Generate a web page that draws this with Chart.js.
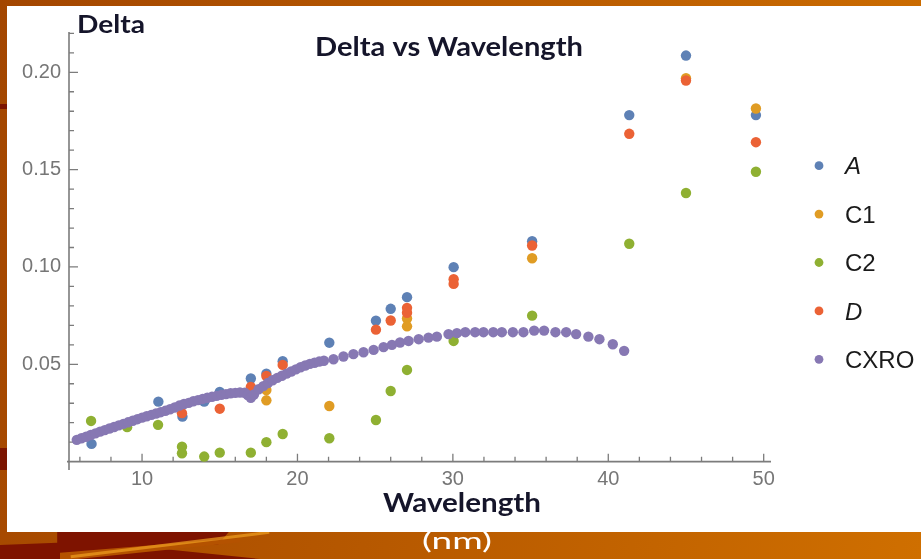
<!DOCTYPE html>
<html>
<head>
<meta charset="utf-8">
<script src="https://cdn.jsdelivr.net/npm/chart.js@4.4.1/dist/chart.umd.min.js"></script>
<style>
  html, body { margin: 0; padding: 0; }
  body {
    width: 921px; height: 559px; position: relative; overflow: hidden;
    background: linear-gradient(100deg, #a34600 0%, #b65800 45%, #cf6f00 100%);
  }
  .deco { position: absolute; }
  #panel { position: absolute; left: 7px; top: 6px; width: 914px; height: 526px; background: #ffffff; }
  #chart { position: absolute; left: 0; top: 0; }
</style>
</head>
<body>
<!-- slide decoration -->
<div class="deco" style="left:0;top:104px;width:7px;height:5px;background:#7c1400;"></div>
<div class="deco" style="left:0;top:448px;width:7px;height:22px;background:#7c1400;"></div>
<div class="deco" style="left:0;top:532px;width:260px;height:27px;background:#7e1300;clip-path:polygon(0% 48%, 22% 40%, 22% 0%, 88% 0%, 84% 45%, 60% 60%, 100% 100%, 0% 100%);"></div>
<div class="deco" style="left:60px;top:538px;width:180px;height:21px;background:#b45200;clip-path:polygon(0% 70%, 100% 0%, 100% 20%, 10% 100%, 0% 100%);"></div>
<div class="deco" style="left:70px;top:543px;width:200px;height:3px;background:#f0a020;transform:rotate(-7deg);opacity:0.7;"></div>
<div id="panel"></div>
<canvas id="chart" width="921" height="559"></canvas>
<script>
// Series names and colours
const seriesNames  = ['A', 'C1', 'C2', 'D', 'CXRO'];
const seriesColors = ['#5e81b5', '#e09c24', '#8fb032', '#eb6235', '#8778b3'];

// Measured points: wavelength (nm) and delta
const aWavelength = [6.75, 11.05, 12.6, 14.0, 15.0, 17.0, 18.0, 19.05, 22.05, 25.05, 26.0, 27.05, 30.05, 35.1, 41.35, 45.0, 49.5];
const aDelta      = [0.0091, 0.0308, 0.0231, 0.0308, 0.0358, 0.0427, 0.0452, 0.0516, 0.0611, 0.0724, 0.0785, 0.0845, 0.0999, 0.1132, 0.1780, 0.2086, 0.1780];

const c1Wavelength = [18.0, 18.0, 22.05, 27.05, 27.05, 35.1, 45.0, 49.5];
const c1Delta      = [0.0368, 0.0315, 0.0286, 0.0735, 0.0695, 0.1045, 0.1970, 0.1814];

const c2Wavelength = [6.72, 9.04, 11.03, 12.57, 12.57, 14.0, 15.0, 17.0, 18.0, 19.05, 22.05, 25.05, 26.0, 27.05, 30.05, 35.1, 41.35, 45.0, 49.5];
const c2Delta      = [0.0209, 0.0177, 0.0189, 0.0077, 0.0043, 0.0026, 0.0046, 0.0046, 0.0100, 0.0142, 0.0120, 0.0214, 0.0363, 0.0471, 0.0620, 0.0750, 0.1119, 0.1380, 0.1489];

const dWavelength = [12.57, 15.0, 17.0, 18.0, 19.05, 25.05, 26.0, 27.05, 27.05, 30.05, 30.05, 35.1, 41.35, 45.0, 49.5];
const dDelta      = [0.0249, 0.0272, 0.0384, 0.0440, 0.0497, 0.0678, 0.0725, 0.0790, 0.0765, 0.0937, 0.0913, 0.1110, 0.1684, 0.1958, 0.1641];

// CXRO tabulated delta
const cxroWavelength = [
  5.8, 6.1, 6.4, 6.7, 7.0, 7.3, 7.6, 7.9, 8.2, 8.5, 8.8, 9.1, 9.4, 9.7, 10.0, 10.3, 10.6, 10.9,
  11.2, 11.5, 11.8, 12.1, 12.4, 12.7, 13.0, 13.3, 13.6, 13.9, 14.2, 14.5, 14.8, 15.1, 15.4, 15.7,
  16.0, 16.3, 16.6, 16.8, 17.0, 17.2, 17.5, 17.8, 18.1, 18.4, 18.7, 19.0, 19.3, 19.6, 19.9, 20.2,
  20.5, 20.8, 21.1, 21.4, 21.7, 22.32, 22.96, 23.6, 24.25, 24.9, 25.54, 26.08, 26.6, 27.15, 27.8,
  28.43, 28.97, 29.72, 30.26, 30.8, 31.43, 31.97, 32.6, 33.15, 33.86, 34.54, 35.23, 35.87, 36.6,
  37.29, 37.93, 38.72, 39.43, 40.29, 41.02
];
const cxroDelta = [
  0.0112, 0.0120, 0.0128, 0.0137, 0.0145, 0.0154, 0.0162, 0.0170, 0.0178, 0.0186, 0.0194, 0.0202, 0.0210, 0.0218, 0.0226, 0.0233, 0.0240, 0.0247,
  0.0254, 0.0261, 0.0269, 0.0278, 0.0288, 0.0296, 0.0302, 0.0310, 0.0316, 0.0322, 0.0328, 0.0333, 0.0338, 0.0343, 0.0347, 0.0351,
  0.0353, 0.0355, 0.0354, 0.0342, 0.0328, 0.0345, 0.0372, 0.0388, 0.0404, 0.0418, 0.0430, 0.0441, 0.0452, 0.0463, 0.0474, 0.0485,
  0.0494, 0.0502, 0.0508, 0.0514, 0.0518, 0.0526, 0.0540, 0.0552, 0.0562, 0.0574, 0.0588, 0.0600, 0.0612, 0.0620, 0.0629,
  0.0637, 0.0642, 0.0655, 0.0660, 0.0665, 0.0665, 0.0665, 0.0665, 0.0665, 0.0665, 0.0665, 0.0673, 0.0673, 0.0665,
  0.0665, 0.0655, 0.0642, 0.0629, 0.0603, 0.0569
];

// Axis ticks
const xTickValues = [10, 20, 30, 40, 50];
const xTickLabels = ['10', '20', '30', '40', '50'];
const xMinorTicks = [6, 8, 12, 14, 16, 18, 22, 24, 26, 28, 32, 34, 36, 38, 42, 44, 46, 48];
const yTickValues = [0.05, 0.10, 0.15, 0.20];
const yTickLabels = ['0.05', '0.10', '0.15', '0.20'];
const yMinorTicks = [0.01, 0.02, 0.03, 0.04, 0.06, 0.07, 0.08, 0.09, 0.11, 0.12, 0.13, 0.14, 0.16, 0.17, 0.18, 0.19, 0.21, 0.22];

const seriesWavelengths = [aWavelength, c1Wavelength, c2Wavelength, dWavelength, cxroWavelength];
const seriesDeltas      = [aDelta, c1Delta, c2Delta, dDelta, cxroDelta];

function toPoints(xs, ys) { return xs.map((x, i) => ({ x: x, y: ys[i] })); }

// later series are painted over earlier ones
const datasets = seriesNames.map((name, i) => ({
  label: name,
  data: toPoints(seriesWavelengths[i], seriesDeltas[i]),
  backgroundColor: seriesColors[i],
  borderWidth: 0,
  pointRadius: 5.2,
  pointHoverRadius: 5.2,
  order: seriesNames.length - i
}));

const AXIS_COLOR = '#7c7c7c';

// Frame-style axes with inward tick marks
const insideAxes = {
  id: 'insideAxes',
  beforeDatasetsDraw(chart) {
    const { ctx, chartArea } = chart;
    const xs = chart.scales.x, ys = chart.scales.y;
    const y0 = ys.getPixelForValue(0);
    const xl = chartArea.left;
    ctx.save();
    ctx.strokeStyle = AXIS_COLOR;
    ctx.lineWidth = 1.6;
    ctx.beginPath();
    ctx.moveTo(xl, chartArea.top);
    ctx.lineTo(xl, chartArea.bottom);
    ctx.moveTo(xl - 2, y0);
    ctx.lineTo(chartArea.right, y0);
    ctx.stroke();
    ctx.lineWidth = 1.3;
    ctx.beginPath();
    xTickValues.forEach(v => { const p = xs.getPixelForValue(v); ctx.moveTo(p, y0); ctx.lineTo(p, y0 - 8); });
    xMinorTicks.forEach(v => { const p = xs.getPixelForValue(v); ctx.moveTo(p, y0); ctx.lineTo(p, y0 - 5); });
    yTickValues.forEach(v => { const p = ys.getPixelForValue(v); ctx.moveTo(xl, p); ctx.lineTo(xl + 9, p); });
    yMinorTicks.forEach(v => { const p = ys.getPixelForValue(v); ctx.moveTo(xl, p); ctx.lineTo(xl + 5, p); });
    ctx.stroke();
    ctx.restore();
  }
};

function drawFitted(ctx, text, font, color, x, baseline, width) {
  ctx.save();
  ctx.font = font;
  const w = ctx.measureText(text).width;
  ctx.translate(x, baseline);
  ctx.scale(width / w, 1);
  ctx.fillStyle = color;
  ctx.textBaseline = 'alphabetic';
  ctx.textAlign = 'left';
  ctx.fillText(text, 0, 0);
  ctx.restore();
}

// Titles, axis captions and the legend
const captions = {
  id: 'captions',
  afterDraw(chart) {
    const ctx = chart.ctx;
    drawFitted(ctx, 'Delta vs Wavelength', 'bold 26px Lato', '#15152a', 315, 56, 268);
    drawFitted(ctx, 'Delta', 'bold 25px Lato', '#15152a', 77, 33, 68);
    drawFitted(ctx, 'Wavelength', 'bold 26px Lato', '#15152a', 383, 512, 158);
    drawFitted(ctx, '(nm)', '24px Lato', '#ffffff', 422, 549, 70);

    const italic = { A: true, D: true };
    seriesNames.forEach((name, i) => {
      const cy = 165.7 + i * 48.4;
      ctx.save();
      ctx.fillStyle = seriesColors[i];
      ctx.beginPath();
      ctx.arc(819, cy, 4.4, 0, Math.PI * 2);
      ctx.fill();
      ctx.fillStyle = '#1a1a1a';
      ctx.font = (italic[name] ? 'italic ' : '') + '24px "Liberation Sans"';
      ctx.textBaseline = 'alphabetic';
      ctx.fillText(name, 845, cy + 8.6);
      ctx.restore();
    });
  }
};

new Chart(document.getElementById('chart'), {
  type: 'scatter',
  data: { datasets: datasets },
  options: {
    responsive: false,
    animation: false,
    devicePixelRatio: 1,
    layout: { padding: { top: 32, right: 150, bottom: 0, left: 0 } },
    plugins: { legend: { display: false }, tooltip: { enabled: false }, title: { display: false } },
    scales: {
      x: {
        type: 'linear', min: 5.3, max: 50.47,
        afterBuildTicks: s => { s.ticks = xTickValues.map(v => ({ value: v })); },
        afterFit: s => { s.height = 89; },
        grid: { display: false, drawTicks: false },
        border: { display: false },
        ticks: {
          autoSkip: false, maxRotation: 0, padding: -3, color: '#767676',
          font: { family: 'Liberation Sans', size: 20 },
          callback: v => xTickLabels[xTickValues.indexOf(v)]
        }
      },
      y: {
        type: 'linear', min: -0.0043, max: 0.2207,
        afterBuildTicks: s => { s.ticks = yTickValues.map(v => ({ value: v })); },
        afterFit: s => { s.width = 69; },
        grid: { display: false, drawTicks: false },
        border: { display: false },
        ticks: {
          padding: 8, color: '#767676',
          font: { family: 'Liberation Sans', size: 20 },
          callback: v => yTickLabels[yTickValues.findIndex(t => Math.abs(t - v) < 1e-9)]
        }
      }
    }
  },
  plugins: [insideAxes, captions]
});
</script>
</body>
</html>
